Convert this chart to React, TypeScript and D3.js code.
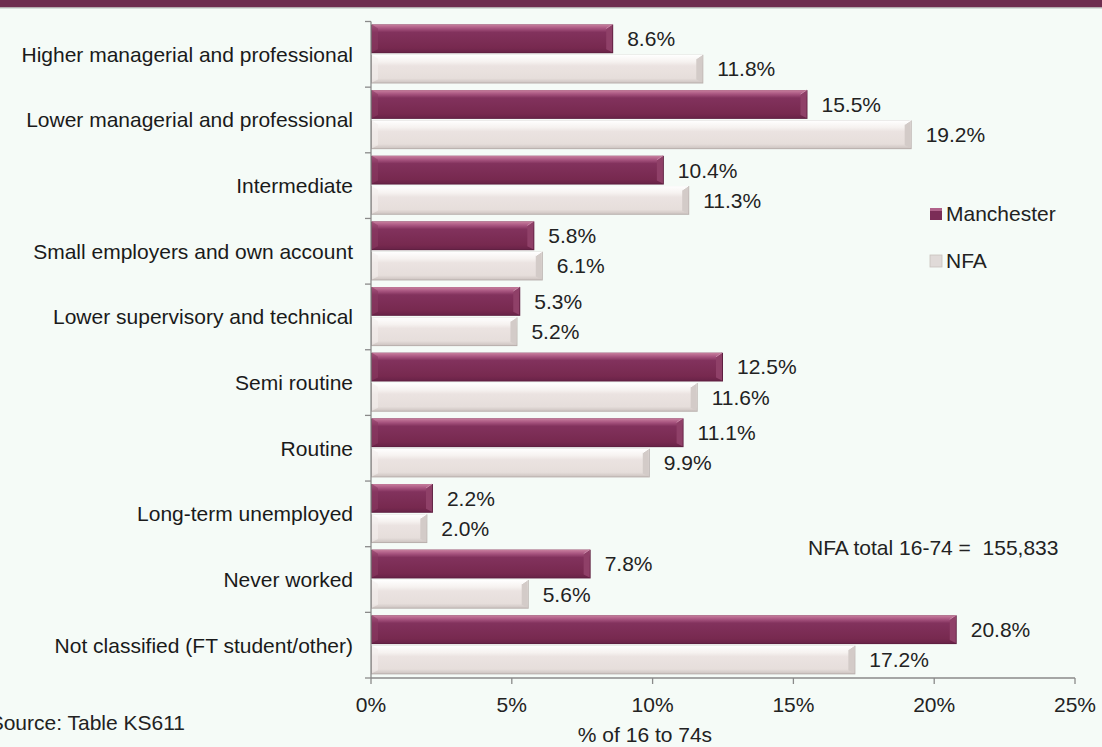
import React from "react";
import * as d3 from "d3";

const categories = [
  "Higher managerial and professional",
  "Lower managerial and professional",
  "Intermediate",
  "Small employers and own account",
  "Lower supervisory and technical",
  "Semi routine",
  "Routine",
  "Long-term unemployed",
  "Never worked",
  "Not classified (FT student/other)",
];
const seriesNames = ["Manchester", "NFA"];
const manchester = [8.6, 15.5, 10.4, 5.8, 5.3, 12.5, 11.1, 2.2, 7.8, 20.8];
const nfa = [11.8, 19.2, 11.3, 6.1, 5.2, 11.6, 9.9, 2.0, 5.6, 17.2];
const xTicks = [0, 5, 10, 15, 20, 25];

const W = 1102;
const H = 747;
const FONT = "'Liberation Sans', Arial, sans-serif";

export default function App() {
  const x = d3.scaleLinear().domain([0, 25]).range([371, 1075]);
  const y = d3.scaleBand<string>().domain(categories).range([21.5, 678]).paddingInner(0);
  const inner = d3.scaleBand<string>().domain(seriesNames).range([3, 62]).paddingInner(0.05);
  const bw = inner.bandwidth();
  const x0 = x(0);

  const bar = (v: number, top: number, s: string, key: string) => {
    const w = x(v) - x0;
    const isM = s === "Manchester";
    const gid = isM ? "gM" : "gN";
    const bev = 6;
    return (
      <g key={key}>
        <rect x={x0} y={top} width={w} height={bw} fill={isM ? "#5e1f40" : "#b9b0ad"} />
        <rect x={x0 + 1} y={top} width={w - 2} height={bw - 1} fill={`url(#${gid})`} />
        <polygon
          points={`${x0 + w - 1},${top} ${x0 + w - 1},${top + bw - 1} ${x0 + w - 1 - bev},${top + bw - 4} ${x0 + w - 1 - bev},${top + 4}`}
          fill={isM ? "#8f4068" : "#d3cbc8"}
        />
        <line
          x1={x0 + w - 1}
          y1={top}
          x2={x0 + w - 1 - bev}
          y2={top + 4}
          stroke={isM ? "#c98aa8" : "#ffffff"}
          strokeWidth={1}
        />
        <polygon
          points={`${x0 + 1},${top} ${x0 + 1 + bev},${top + 4} ${x0 + 1 + bev},${top + bw - 4} ${x0 + 1},${top + bw - 1}`}
          fill={isM ? "#8a3a63" : "#f3eeec"}
          opacity={0.6}
        />
      </g>
    );
  };

  return (
    <svg width={W} height={H} style={{ position: "absolute", left: 0, top: 0, display: "block" }}>
      <defs>
        <linearGradient id="gM" x1="0" y1="0" x2="0" y2="1">
          <stop offset="0" stopColor="#c9809f" />
          <stop offset="0.14" stopColor="#a85580" />
          <stop offset="0.28" stopColor="#82325d" />
          <stop offset="0.85" stopColor="#77294f" />
          <stop offset="1" stopColor="#6a2348" />
        </linearGradient>
        <linearGradient id="gN" x1="0" y1="0" x2="0" y2="1">
          <stop offset="0" stopColor="#ffffff" />
          <stop offset="0.25" stopColor="#f6f2f0" />
          <stop offset="0.4" stopColor="#ebe3e1" />
          <stop offset="0.85" stopColor="#e6dedb" />
          <stop offset="1" stopColor="#cfc6c3" />
        </linearGradient>
      </defs>
      <rect x={0} y={0} width={W} height={H} fill="#f5fbf7" />
      <rect x={0} y={0} width={W} height={7.5} fill="#6e2d4f" />
      <line x1={0} x2={W} y1={8} y2={8} stroke="#b9c2bd" strokeWidth={1} />

      {categories.map((c, i) => {
        const bt = y(c)!;
        return (
          <g key={c}>
            {bar(manchester[i], bt + inner("Manchester")!, "Manchester", c + "m")}
            {bar(nfa[i], bt + inner("NFA")!, "NFA", c + "n")}
            <text
              x={x(manchester[i]) + 14}
              y={bt + inner("Manchester")! + bw / 2}
              dy="0.35em"
              fontFamily={FONT}
              fontSize={21}
              fill="#222"
            >
              {manchester[i].toFixed(1)}%
            </text>
            <text
              x={x(nfa[i]) + 14}
              y={bt + inner("NFA")! + bw / 2}
              dy="0.35em"
              fontFamily={FONT}
              fontSize={21}
              fill="#222"
            >
              {nfa[i].toFixed(1)}%
            </text>
            <text
              x={353}
              y={bt + y.bandwidth() / 2}
              dy="0.35em"
              textAnchor="end"
              fontFamily={FONT}
              fontSize={21}
              fill="#1a1a1a"
            >
              {c}
            </text>
          </g>
        );
      })}

      {/* y axis */}
      <line x1={x0} x2={x0} y1={21.5} y2={678} stroke="#8a8a8a" strokeWidth={1.3} />
      {[...categories.map((c) => y(c)!), 678].map((t, i) => (
        <line key={i} x1={x0 - 6} x2={x0} y1={t} y2={t} stroke="#8a8a8a" strokeWidth={1.3} />
      ))}
      {/* x axis */}
      <line x1={x0} x2={x(25)} y1={678} y2={678} stroke="#8a8a8a" strokeWidth={1.3} />
      {xTicks.map((t) => (
        <g key={t}>
          <line x1={x(t)} x2={x(t)} y1={678} y2={684} stroke="#8a8a8a" strokeWidth={1.3} />
          <text x={x(t)} y={705} dy="0.35em" textAnchor="middle" fontFamily={FONT} fontSize={21} fill="#222">
            {t}%
          </text>
        </g>
      ))}
      <text x={645} y={735} dy="0.35em" textAnchor="middle" fontFamily={FONT} fontSize={21} fill="#222">
        % of 16 to 74s
      </text>
      <text x={185} y={723} dy="0.35em" textAnchor="end" fontFamily={FONT} fontSize={21} fill="#222">
        Source: Table KS611
      </text>
      <text x={808} y={548} dy="0.35em" fontFamily={FONT} fontSize={21} fill="#222" style={{ whiteSpace: "pre" }}>
        {"NFA total 16-74 =  155,833"}
      </text>

      {/* legend */}
      <rect x={930} y={208} width={12} height={12} fill="#7b2d57" />
      <rect x={930} y={208} width={12} height={3} fill="#b0628a" />
      <text x={946} y={214} dy="0.35em" fontFamily={FONT} fontSize={21} fill="#222">
        Manchester
      </text>
      <rect x={930} y={255} width={12} height={12} fill="#e0dad8" stroke="#c8c0bd" strokeWidth={0.8} />
      <text x={946} y={261} dy="0.35em" fontFamily={FONT} fontSize={21} fill="#222">
        NFA
      </text>
    </svg>
  );
}
